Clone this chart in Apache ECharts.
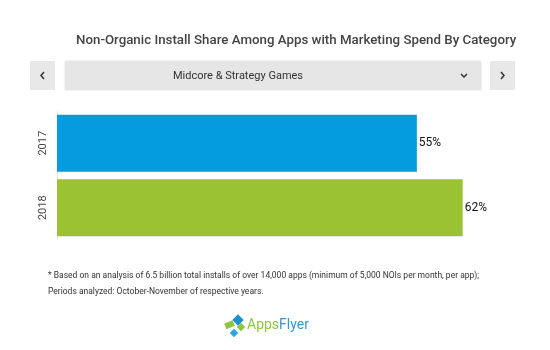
<!DOCTYPE html>
<html>
<head>
<meta charset="utf-8">
<script src="https://cdn.jsdelivr.net/npm/echarts@6/dist/echarts.min.js"></script>
<style>
  html, body { margin: 0; padding: 0; background: #fff; }
  #chart { width: 550px; height: 350px; }
</style>
</head>
<body>
<div id="chart"></div>
<script>
// 数据
var years = ['2017', '2018']
var shares = [55, 62]
var barColors = ['#049bdf', '#9bc232']

var myChart = echarts.init(document.getElementById('chart'))

var option = {
  animation: false,
  textStyle: { fontFamily: 'Roboto' },
  title: {
    text: 'Non-Organic Install Share Among Apps with Marketing Spend By Category',
    left: 71,
    top: 29,
    textStyle: { fontSize: 13.3, fontWeight: 500, color: '#444', fontFamily: 'Roboto' }
  },
  grid: { left: 57, right: 35, top: 111, height: 129 },
  xAxis: {
    type: 'value',
    min: 0,
    max: 70,
    show: false
  },
  yAxis: {
    type: 'category',
    inverse: true,
    data: years,
    axisLine: { show: true, lineStyle: { color: '#e3e3e3' } },
    axisTick: { show: false },
    axisLabel: { rotate: 90, fontSize: 11, color: '#444', margin: 8 }
  },
  series: [
    {
      type: 'bar',
      barWidth: 57,
      data: shares.map(function (v, i) {
        return { value: v, itemStyle: { color: barColors[i] } }
      }),
      label: {
        show: true,
        position: 'right',
        distance: 2,
        fontSize: 12,
        color: '#111',
        formatter: '{c}%'
      }
    }
  ],
  graphic: [
    // 左按钮
    { type: 'rect', shape: { x: 30, y: 61, width: 25, height: 29 }, style: { fill: '#e8e8e8' } },
    { type: 'polyline', shape: { points: [[44, 72], [41, 75.5], [44, 79]] }, style: { stroke: '#333', lineWidth: 1.5, fill: null } },
    // 下拉框
    { type: 'rect', shape: { x: 65, y: 61, width: 416, height: 29 }, style: { fill: '#e6e6e6', shadowBlur: 2, shadowColor: 'rgba(0,0,0,0.15)', shadowOffsetX: 0 } },
    { type: 'text', x: 238, y: 76, style: { text: 'Midcore & Strategy Games', fontSize: 11, fill: '#333', fontFamily: 'Roboto', align: 'center', verticalAlign: 'middle' } },
    { type: 'polyline', shape: { points: [[461, 74], [464, 77], [467, 74]] }, style: { stroke: '#333', lineWidth: 1.5, fill: null } },
    // 右按钮
    { type: 'rect', shape: { x: 490, y: 61, width: 25, height: 29 }, style: { fill: '#e8e8e8' } },
    { type: 'polyline', shape: { points: [[501, 72], [504, 75.5], [501, 79]] }, style: { stroke: '#333', lineWidth: 1.5, fill: null } },
    // 注释
    { type: 'text', left: 48, top: 271, style: { text: '* Based on an analysis of 6.5 billion total installs of over 14,000 apps (minimum of 5,000 NOIs per month, per app);', fontSize: 8.5, fill: '#333', fontFamily: 'Roboto' } },
    { type: 'text', left: 48, top: 287, style: { text: 'Periods analyzed: October-November of respective years.', fontSize: 8.5, fill: '#333', fontFamily: 'Roboto' } },
    // logo
    { type: 'rect', shape: { x: 234, y: 316, width: 8, height: 8 }, rotation: Math.PI / 4, originX: 238, originY: 320, style: { fill: '#1b8fd2' } },
    { type: 'rect', shape: { x: 225, y: 322, width: 9, height: 6 }, rotation: Math.PI / 8, originX: 229, originY: 325, style: { fill: '#8dc63f' } },
    { type: 'rect', shape: { x: 238, y: 324, width: 6, height: 6 }, rotation: Math.PI / 4, originX: 241, originY: 327, style: { fill: '#8dc63f' } },
    { type: 'rect', shape: { x: 231, y: 330, width: 6, height: 6 }, rotation: Math.PI / 4, originX: 234, originY: 333, style: { fill: '#2aa9e0' } },
    {
      type: 'text', left: 247, top: 318,
      style: {
        rich: {
          a: { fontSize: 14, fill: '#8dc63f', fontFamily: 'Roboto' },
          b: { fontSize: 14, fill: '#2b9ad6', fontFamily: 'Roboto' }
        },
        text: '{a|Apps}{b|Flyer}'
      }
    }
  ]
}

myChart.setOption(option, true)
</script>
</body>
</html>
